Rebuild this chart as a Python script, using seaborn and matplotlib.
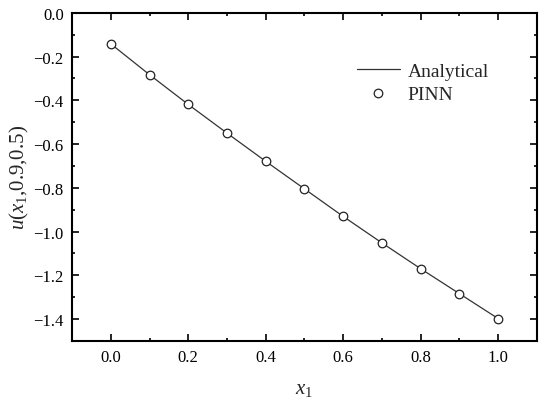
import matplotlib
matplotlib.use("Agg")
import matplotlib.pyplot as plt
import seaborn as sns
import pandas as pd
from matplotlib.ticker import MultipleLocator

x1 = [0.0, 0.1, 0.2, 0.3, 0.4, 0.5, 0.6, 0.7, 0.8, 0.9, 1.0]
analytical = [-0.142, -0.283, -0.419, -0.550, -0.679, -0.805, -0.931, -1.052, -1.170, -1.284, -1.398]
pinn = [-0.142, -0.283, -0.419, -0.550, -0.679, -0.805, -0.931, -1.052, -1.170, -1.284, -1.398]

df = pd.DataFrame({"x1": x1, "Analytical": analytical, "PINN": pinn})

sns.set_theme(style="ticks")
plt.rcParams["font.family"] = ["Liberation Serif", "DejaVu Serif"]
plt.rcParams["mathtext.fontset"] = "custom"
plt.rcParams["mathtext.rm"] = "Liberation Serif"
plt.rcParams["mathtext.it"] = "Liberation Serif:italic"

fig = plt.figure(figsize=(5.5, 4.06), dpi=100)
ax = fig.add_axes([0.131, 0.158, 0.845, 0.808])

sns.lineplot(data=df, x="x1", y="Analytical", ax=ax, color="#333333", linewidth=0.9, label="Analytical")
sns.scatterplot(data=df, x="x1", y="PINN", ax=ax, marker="o", s=38, facecolor="white",
                edgecolor="#222222", linewidth=0.9, label="PINN", zorder=3)

ax.set_xlim(-0.1, 1.1)
ax.set_ylim(-1.5, 0.0)
ax.xaxis.set_major_locator(MultipleLocator(0.2))
ax.xaxis.set_minor_locator(MultipleLocator(0.1))
ax.yaxis.set_major_locator(MultipleLocator(0.2))
ax.yaxis.set_minor_locator(MultipleLocator(0.1))
ax.tick_params(which="both", direction="in", top=True, right=True, width=1.2, colors="black", labelsize=12)
ax.tick_params(which="major", length=5, pad=6)
ax.tick_params(which="minor", length=2.5)
for s in ax.spines.values():
    s.set_linewidth(1.5)
    s.set_color("black")

ax.set_xlabel(r"$x_1$", fontsize=15, labelpad=10)
ax.set_ylabel(r"$u$($x_1$,0.9,0.5)", fontsize=15, labelpad=2)

ax.legend(loc="upper right", bbox_to_anchor=(0.926, 0.89), frameon=False, fontsize=14,
          handlelength=2.2, handletextpad=0.4, labelspacing=0.25, borderpad=0.2)

fig.savefig("out.png", dpi=100)
